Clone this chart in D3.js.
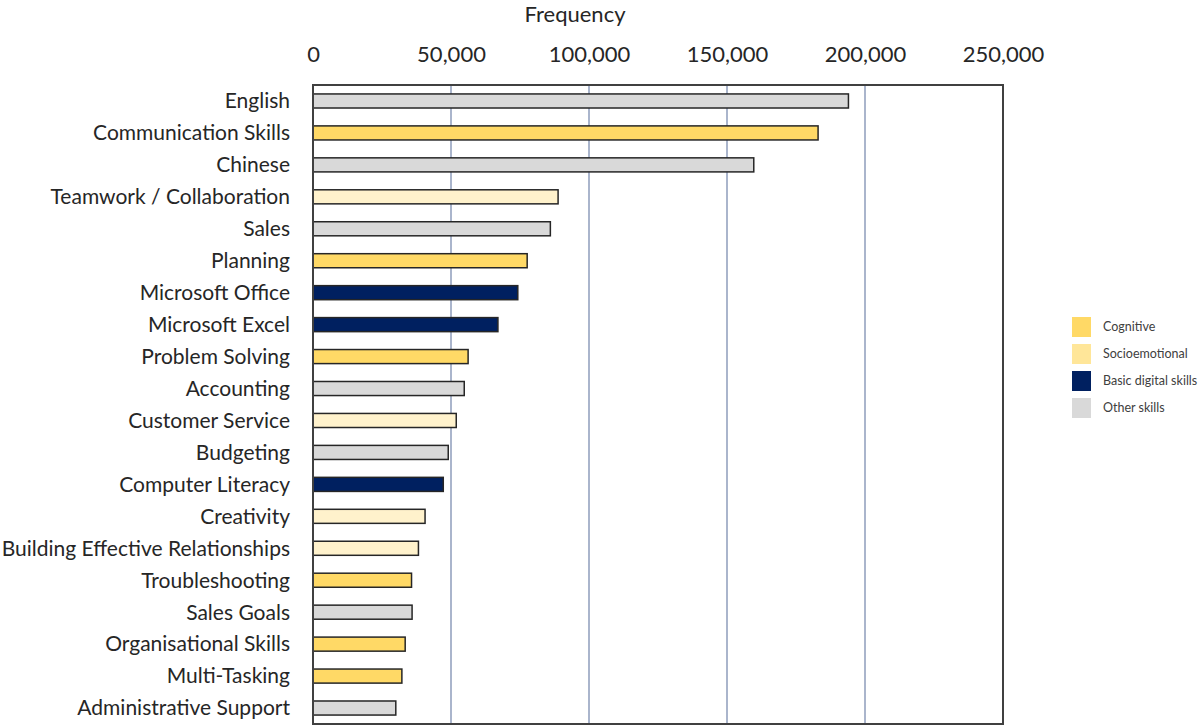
<!DOCTYPE html>
<html>
<head>
<meta charset="utf-8">
<script src="https://cdn.jsdelivr.net/npm/d3@7"></script>
<style>
  html, body { margin: 0; padding: 0; background: #fff; }
  svg { display: block; }
  text { font-family: Lato, "Open Sans", sans-serif; fill: #262626; }
</style>
</head>
<body>
<svg id="chart" width="1198" height="725"></svg>
<script>
// Skills, most demanded first
const skills = [
  "English", "Communication Skills", "Chinese", "Teamwork / Collaboration", "Sales",
  "Planning", "Microsoft Office", "Microsoft Excel", "Problem Solving", "Accounting",
  "Customer Service", "Budgeting", "Computer Literacy", "Creativity",
  "Building Effective Relationships", "Troubleshooting", "Sales Goals",
  "Organisational Skills", "Multi-Tasking", "Administrative Support"
];
// Frequency of each skill in job postings
const frequency = [
  194000, 183000, 159700, 88800, 86000,
  77600, 74200, 67000, 56200, 54800,
  51900, 49000, 47200, 40600,
  38200, 35700, 35900,
  33400, 32200, 30000
];
// Skill group of each skill
const group = [
  "Other skills", "Cognitive", "Other skills", "Socioemotional", "Other skills",
  "Cognitive", "Basic digital skills", "Basic digital skills", "Cognitive", "Other skills",
  "Socioemotional", "Other skills", "Basic digital skills", "Socioemotional",
  "Socioemotional", "Cognitive", "Other skills",
  "Cognitive", "Cognitive", "Other skills"
];
const groups = ["Cognitive", "Socioemotional", "Basic digital skills", "Other skills"];
const barColors = ["#FFD966", "#FFF2CC", "#002060", "#D9D9D9"];
const legendColors = ["#FFD966", "#FFE699", "#002060", "#D9D9D9"];
const tickValues = [0, 50000, 100000, 150000, 200000, 250000];

const svg = d3.select("#chart");
const plot = { left: 313, right: 1003, top: 85, bottom: 724 };

const x = d3.scaleLinear().domain([0, 250000]).range([plot.left, plot.right]);
const y = d3.scaleBand().domain(skills).range([plot.top, plot.bottom]).paddingInner(0.56).paddingOuter(0.28);
const fill = d3.scaleOrdinal().domain(groups).range(barColors);

// vertical gridlines
svg.append("g")
  .selectAll("line")
  .data(tickValues.slice(1, -1))
  .join("line")
  .attr("x1", d => x(d)).attr("x2", d => x(d))
  .attr("y1", plot.top).attr("y2", plot.bottom)
  .attr("stroke", "#8E9DBB").attr("stroke-width", 1.5);

// top axis labels
const axis = d3.axisTop(x).tickValues(tickValues).tickFormat(d3.format(",")).tickSize(0).tickPadding(0);
const ax = svg.append("g").attr("transform", "translate(0,62)").call(axis);
ax.select(".domain").remove();
ax.selectAll("text").attr("font-size", 22).attr("font-family", "Lato, sans-serif").style("fill", "#262626");

svg.append("text")
  .attr("x", 575).attr("y", 22)
  .attr("text-anchor", "middle")
  .attr("font-size", 22)
  .text("Frequency");

// bars
const data = skills.map((s, i) => ({ skill: s, value: frequency[i], group: group[i] }));
svg.append("g")
  .selectAll("rect")
  .data(data)
  .join("rect")
  .attr("x", x(0))
  .attr("y", d => y(d.skill))
  .attr("width", d => x(d.value) - x(0))
  .attr("height", y.bandwidth())
  .attr("fill", d => fill(d.group))
  .attr("stroke", "#262626")
  .attr("stroke-width", 1.5);

// frame
svg.append("rect")
  .attr("x", plot.left).attr("y", plot.top)
  .attr("width", plot.right - plot.left).attr("height", plot.bottom - plot.top)
  .attr("fill", "none").attr("stroke", "#404040").attr("stroke-width", 2);

// category labels
svg.append("g")
  .selectAll("text")
  .data(skills)
  .join("text")
  .attr("x", 290)
  .attr("y", d => y(d) + y.bandwidth() / 2)
  .attr("dy", "0.35em")
  .attr("text-anchor", "end")
  .attr("font-size", 21)
  .text(d => d);

// legend
const legend = svg.append("g").attr("transform", "translate(1072,317)");
const item = legend.selectAll("g").data(groups).join("g")
  .attr("transform", (d, i) => `translate(0,${i * 27})`);
item.append("rect").attr("width", 19).attr("height", 20)
  .attr("fill", (d, i) => legendColors[i]);
item.append("text").attr("x", 31).attr("y", 10).attr("dy", "0.35em")
  .attr("font-size", 12.5).style("fill", "#404040").text(d => d);
</script>
</body>
</html>
